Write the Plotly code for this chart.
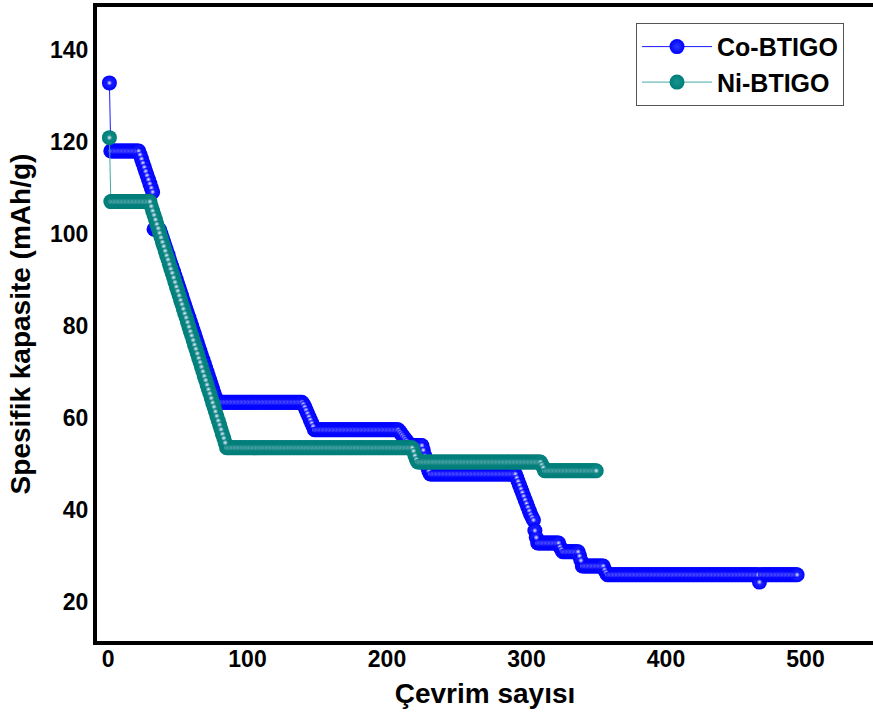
import plotly.graph_objects as go

# ---- data (capacity in mAh/g, one value per cycle) ----
co_capacity = (
    [132.8]
    + [118.0] * 21
    + [117.2, 116.3, 115.4, 114.5, 113.6, 112.7, 111.8, 110.9, 110.0, 109.1]
    + [101.0, 101.0, 101.0, 101.0, 100.9]
    + [100.0, 99.1, 98.2, 97.3, 96.4, 95.5, 94.5, 93.6, 92.7, 91.8,
       90.9, 90.0, 89.1, 88.2, 87.3, 86.4, 85.4, 84.5, 83.6, 82.7,
       81.8, 80.9, 80.0, 79.1, 78.2, 77.3, 76.3, 75.4, 74.5, 73.6,
       72.7, 71.8, 70.9, 70.0, 69.1, 68.2, 67.3, 66.3, 65.4, 64.5, 63.6]
    + [63.4] * 61
    + [63.0, 62.4, 61.7, 61.0, 60.3, 59.6, 58.9, 58.2]
    + [57.4] * 61
    + [57.0, 56.6, 56.2, 55.8, 55.4, 55.0, 54.6, 54.2]
    + [54.0] * 9
    + [53.0, 51.8, 50.6, 49.4, 48.4]
    + [47.8] * 62
    + [47.0, 46.2, 45.4, 44.6, 43.8, 43.0, 42.2, 41.4, 40.6, 39.8, 39.0, 38.4, 37.8]
    + [35.5, 34.0]
    + [32.8] * 16
    + [32.0, 31.4]
    + [30.9] * 12
    + [30.0, 29.0]
    + [27.8] * 16
    + [27.0, 26.4]
    + [25.9] * 109
    + [24.3]
    + [25.9] * 27
)

ni_capacity = (
    [120.9]
    + [107.0] * 29
    + [106.0, 105.0, 104.1, 103.1, 102.1, 101.2, 100.2, 99.2, 98.2, 97.3,
       96.3, 95.3, 94.4, 93.4, 92.4, 91.5, 90.5, 89.5, 88.5, 87.6,
       86.6, 85.6, 84.7, 83.7, 82.7, 81.8, 80.8, 79.8, 78.8, 77.9,
       76.9, 75.9, 75.0, 74.0, 73.0, 72.1, 71.1, 70.1, 69.1, 68.2,
       67.2, 66.2, 65.3, 64.3, 63.3, 62.4, 61.4, 60.4, 59.4, 58.5,
       57.5, 56.5, 55.6, 54.6]
    + [53.5] * 134
    + [52.8, 51.8, 51.0]
    + [50.4] * 89
    + [49.8, 49.2]
    + [48.5] * 38
)

co_cycles = list(range(1, len(co_capacity) + 1))
ni_cycles = list(range(1, len(ni_capacity) + 1))

series_names = ["Co-BTIGO", "Ni-BTIGO"]
x_ticks = [0, 100, 200, 300, 400, 500]
y_ticks = [20, 40, 60, 80, 100, 120, 140]

FONT = "Liberation Sans, Arial, sans-serif"
CO_COLOR = "#0000ff"
NI_COLOR = "#007d79"

fig = go.Figure()


def add_series(x, y, name, color, line_color, hl_color):
    # sphere body
    fig.add_trace(go.Scatter(
        x=x, y=y, name=name, mode="lines+markers",
        line=dict(color=line_color, width=1),
        marker=dict(size=15, color=color, line=dict(width=0),
                    gradient=dict(type="radial", color=hl_color)),
    ))
    # small specular highlight on each sphere
    fig.add_trace(go.Scatter(
        x=x, y=y, mode="markers", showlegend=False, hoverinfo="skip",
        marker=dict(size=6, color=color, line=dict(width=0),
                    gradient=dict(type="radial", color="#e8eeff")),
    ))


add_series(co_cycles, co_capacity, series_names[0], CO_COLOR, "#1a1aff", "#2a3aff")
add_series(ni_cycles, ni_capacity, series_names[1], NI_COLOR, "#45a9a4", "#159490")

fig.update_layout(
    width=873, height=722,
    margin=dict(l=97, r=0, t=7, b=81),
    paper_bgcolor="white", plot_bgcolor="white",
    font=dict(family=FONT, color="black"),
    showlegend=True,
    legend=dict(
        x=0.6946, y=0.975, xanchor="left", yanchor="top",
        bgcolor="white", bordercolor="#555555", borderwidth=1,
        font=dict(family=FONT, size=25, weight="bold", color="black"),
        itemwidth=70, tracegroupgap=0,
    ),
)
fig.update_xaxes(
    range=[-7.9, 548.4], tickvals=x_ticks, ticks="", ticklen=0,
    ticklabelstandoff=-6,
    showgrid=False, zeroline=False, automargin=False,
    showline=True, linecolor="black", linewidth=4, mirror=True,
    tickfont=dict(family=FONT, size=23, weight="bold"),
    title=dict(text="Çevrim sayısı", standoff=14,
               font=dict(family=FONT, size=28, weight="bold")),
)
fig.update_yaxes(
    range=[11.5, 149.3], tickvals=y_ticks, ticks="", ticklen=0,
    showgrid=False, zeroline=False, automargin=False,
    showline=True, linecolor="black", linewidth=4, mirror=False,
    tickfont=dict(family=FONT, size=23, weight="bold"),
    title=dict(text="Spesifik kapasite (mAh/g)", standoff=12,
               font=dict(family=FONT, size=28, weight="bold")),
)

fig.write_html("out.html", config={"displayModeBar": False},
               post_script="document.body.style.margin='0';")
